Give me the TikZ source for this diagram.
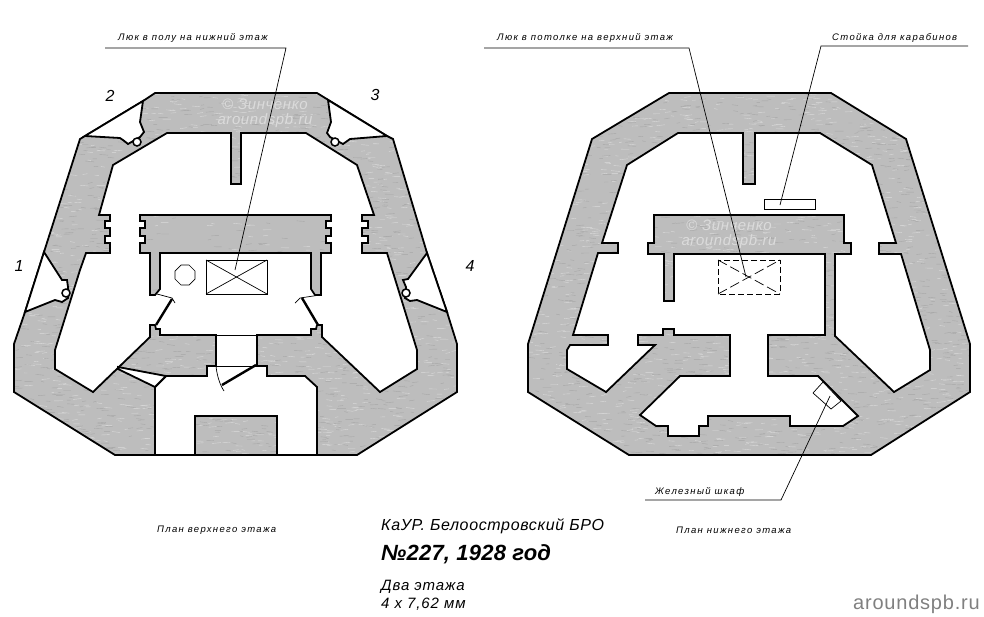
\documentclass[tikz,border=0pt]{standalone}
\usepackage{fontspec}
\setmainfont{Liberation Sans}
\usetikzlibrary{calc}
\definecolor{wallgray}{gray}{0.74}
\tikzset{
  wall/.style={line width=1.8pt, draw=black, fill=wallgray, line join=miter},
  court/.style={line width=1.8pt, draw=black, fill=white, line join=miter},
  thinline/.style={line width=0.7pt, draw=black},
  leaf/.style={line width=2.4pt, draw=black},
  hole/.style={line width=1.5pt, draw=black, fill=white},
  note/.style={font=\fontsize{9.5}{11}\selectfont\itshape\addfontfeature{LetterSpace=14}, inner sep=0pt, anchor=west},
  num/.style={font=\fontsize{16}{18}\selectfont\itshape, inner sep=0pt},
  info/.style={font=\fontsize{15}{17}\selectfont\itshape\addfontfeature{LetterSpace=6}, inner sep=0pt, anchor=west},
  stamp/.style={font=\fontsize{15}{15}\selectfont\itshape\addfontfeature{LetterSpace=4}, text=black!14, align=center, inner sep=0pt},
}
\newcommand{\outerL}{(155,93) -- (317,93) -- (387,136) -- (393,139) -- (427,253) -- (447,312) -- (457,344) -- (457,392) -- (357,455) -- (115,455) -- (14,392) -- (14,344) -- (25,312) -- (44,252) -- (80,139) -- (85,136) -- (143,101)}
\newcommand{\blockL}{(140,215) -- (331,215) -- (331,221) -- (326,221) -- (326,228) -- (331,228) -- (331,236) -- (326,236) -- (326,243) -- (331,243) -- (331,253) -- (321,253) -- (321,295) -- (315,295) -- (311,289) -- (311,253) -- (160,253) -- (160,289) -- (155,295) -- (150,295) -- (150,253) -- (140,253) -- (140,243) -- (145,243) -- (145,236) -- (140,236) -- (140,228) -- (145,228) -- (145,221) -- (140,221)}
\newcommand{\outerR}{(669,93) -- (831,93) -- (906,139) -- (970,344) -- (970,392) -- (871,455) -- (629,455) -- (528,392) -- (528,344) -- (592,139)}
% wall grain, clipped to the given path
\newcommand{\wallgrain}[5]{%
  \begin{scope}
    \clip #1 -- cycle;
    \foreach \i in {1,...,#5}{
      \draw[line width=0.4pt, gray!28] ({#2+rnd*#3},{#4+rnd*365}) -- ++({3+rnd*6},{rnd*2-1});
      \draw[line width=0.4pt, black!35] ({#2+rnd*#3},{#4+rnd*365}) -- ++({3+rnd*6},{rnd*2-1});
    }
  \end{scope}}

\begin{document}
\begin{tikzpicture}[x=1pt,y=-1pt]
  \useasboundingbox (0,0) rectangle (984,616);
  \pgfmathsetseed{227}

  % upper floor
  \fill[wallgray] \outerL -- cycle;
  \wallgrain{\outerL}{10}{450}{92}{1500}
  \path[court] (155,325) -- (150,325) -- (150,337) -- (93,392) -- (55,369) -- (55,350) -- (80,270) -- (86,253) -- (110,253) -- (110,243) -- (105,243) -- (105,236) -- (110,236) -- (110,228) -- (105,228) -- (105,221) -- (110,221) -- (110,215) -- (99,215) -- (113,165) -- (167,133) -- (231,133) -- (231,184) -- (241,184) -- (241,133) -- (306,133) -- (357,165) -- (374,215) -- (362,215) -- (362,221) -- (368,221) -- (368,228) -- (362,228) -- (362,236) -- (368,236) -- (368,243) -- (362,243) -- (362,253) -- (387,253) -- (417,350) -- (417,369) -- (380,392) -- (322,337) -- (322,325) -- (317,325);
  \path[court] (155,325) -- (156,329) -- (160,329) -- (160,335) -- (216,335) -- (216,366) -- (207,366) -- (207,376) -- (166,376) -- (155,387) -- (155,455) -- (195,455) -- (195,416) -- (277,416) -- (277,455) -- (317,455) -- (317,387) -- (305,376) -- (267,376) -- (267,366) -- (257,366) -- (257,335) -- (311,335) -- (311,329) -- (316,329) -- (317,325);
  \fill[wallgray] \blockL -- cycle;
  \wallgrain{\blockL}{138}{195}{214}{130}
  \draw[wall, fill=none] \blockL -- cycle;
  \draw[wall, fill=none] \outerL -- cycle;
  \draw[court] (118,367) -- (166,376) -- (155,387) -- (118,369) -- cycle;

  % firing ports
  \draw[court] (85,136) -- (143,101) -- (140,122) -- (144,132) -- (140,137) -- (128,144) -- (123,140) -- (120,138) -- cycle;
  \draw[court] (328,100) -- (387,136) -- (350,139) -- (343,144) -- (330,137) -- (327,133) -- (331,122) -- cycle;
  \draw[court] (44,252) -- (25,312) -- (55,300) -- (62,302) -- (68,298) -- (68,287) -- (67,280) -- (62,280) -- cycle;
  \draw[court] (427,253) -- (447,312) -- (417,300) -- (410,301) -- (405,298) -- (406,287) -- (403,280) -- (408,279) -- cycle;
  \draw[hole] (137,142) circle [radius=4];
  \draw[hole] (335,142) circle [radius=4];
  \draw[hole] (66,293) circle [radius=4];
  \draw[hole] (406,293) circle [radius=4];

  % doors
  \draw[leaf] (172,299) -- (156,325);
  \draw[leaf] (302,298) -- (318,325);
  \draw[leaf] (222,385) -- (256,365);
  \draw[thinline] (157,294) -- (172,298) -- (175,303);
  \draw[thinline] (320,295) -- (300,298) -- (295,303);
  \draw[thinline] (216,335) -- (257,335);
  \draw[thinline] (216,366) -- (257,366);
  \draw[thinline] (216,366) .. controls (217,376) and (220,385) .. (224,391);

  % floor hatch and stove
  \draw[thinline] (206,260) rectangle (267,294);
  \draw[thinline] (206,260) -- (267,294);
  \draw[thinline] (206,294) -- (267,260);
  \draw[thinline] (181,265) -- (189,265) -- (195,271) -- (195,279) -- (189,285) -- (181,285) -- (175,279) -- (175,271) -- cycle;

  % lower floor
  \fill[wallgray] \outerR -- cycle;
  \wallgrain{\outerR}{524}{450}{92}{1500}
  \draw[court] (678,133) -- (743,133) -- (743,184) -- (755,184) -- (755,133) -- (820,133) -- (872,165) -- (896,243) -- (879,243) -- (879,254) -- (901,254) -- (930,350) -- (930,370) -- (894,392) -- (835,336) -- (835,254) -- (851,254) -- (851,243) -- (844,243) -- (844,215) -- (654,215) -- (654,243) -- (648,243) -- (648,254) -- (664,254) -- (664,301) -- (674,301) -- (674,254) -- (825,254) -- (825,335) -- (768,335) -- (768,376) -- (818,376) -- (858,416) -- (843,426) -- (790,426) -- (790,416) -- (708,416) -- (708,426) -- (699,426) -- (699,436) -- (668,436) -- (668,426) -- (656,426) -- (640,415) -- (680,376) -- (730,376) -- (730,335) -- (674,335) -- (674,329) -- (663,329) -- (663,335) -- (638,335) -- (638,345) -- (655,345) -- (606,392) -- (567,369) -- (567,350) -- (570,345) -- (608,345) -- (608,335) -- (573,335) -- (598,253) -- (618,253) -- (618,243) -- (602,243) -- (627,165) -- cycle;
  \draw[wall, fill=none] \outerR -- cycle;
  \draw[thinline, dash pattern=on 6pt off 3pt] (718,260) rectangle (780,294);
  \draw[thinline, dash pattern=on 10pt off 4pt] (718,260) -- (780,294);
  \draw[thinline, dash pattern=on 10pt off 4pt] (718,294) -- (780,260);
  \draw[thinline] (764,199) rectangle (815,209);
  \draw[thinline, fill=white] (813,393) -- (823,382) -- (841,401) -- (831,409) -- cycle;

  % stamps
  \node[stamp] (stampL) at (265,113) {© Зинченко\\aroundspb.ru};
  \node[stamp] (stampR) at (729,234) {© Зинченко\\aroundspb.ru};

  % labels and leaders
  \node[note] (hatchL) at (118,38) {Люк в полу на нижний этаж};
  \node[note] (hatchR) at (497,38) {Люк в потолке на верхний этаж};
  \node[note] (rack) at (832,38) {Стойка для карабинов};
  \node[note] (locker) at (655,492) {Железный шкаф};
  \coordinate (a1) at (105,48);
  \coordinate (a2) at (286,48);
  \coordinate (a3) at (235,270);
  \draw[thinline] (a1) -- (a2) -- (a3);
  \coordinate (b1) at (484,48);
  \coordinate (b2) at (689,48);
  \coordinate (b3) at (746,277);
  \draw[thinline] (b1) -- (b2) -- (b3);
  \coordinate (c1) at (968,46);
  \coordinate (c2) at (821,46);
  \coordinate (c3) at (780,205);
  \draw[thinline] (c1) -- (c2) -- (c3);
  \coordinate (d1) at (645,500);
  \coordinate (d2) at (781,500);
  \coordinate (d3) at (830,396);
  \draw[thinline] (d1) -- (d2) -- (d3);

  \node[num] (n1) at (19,266) {1};
  \node[num] (n2) at (110,96) {2};
  \node[num] (n3) at (375,95) {3};
  \node[num] (n4) at (470,266) {4};

  \node[note] (planU) at (157,530) {План верхнего этажа};
  \node[note] (planL) at (676,530) {План нижнего этажа};
  \node[info, font=\fontsize{16}{18}\selectfont\itshape\addfontfeature{LetterSpace=4}] (title) at (381,526) {КаУР. Белоостровский БРО};
  \node[info, font=\fontsize{22}{24}\selectfont\itshape\bfseries\addfontfeature{LetterSpace=1}] (number) at (381,554) {№227, 1928 год};
  \node[info] (floors) at (381,587) {Два этажа};
  \node[info] (guns) at (381,604) {4 x 7,62 мм};
  \node[inner sep=0pt, anchor=east, text=black!50, font=\fontsize{20}{22}\selectfont\addfontfeature{LetterSpace=4}] (site) at (980,604) {aroundspb.ru};
\end{tikzpicture}
\end{document}
